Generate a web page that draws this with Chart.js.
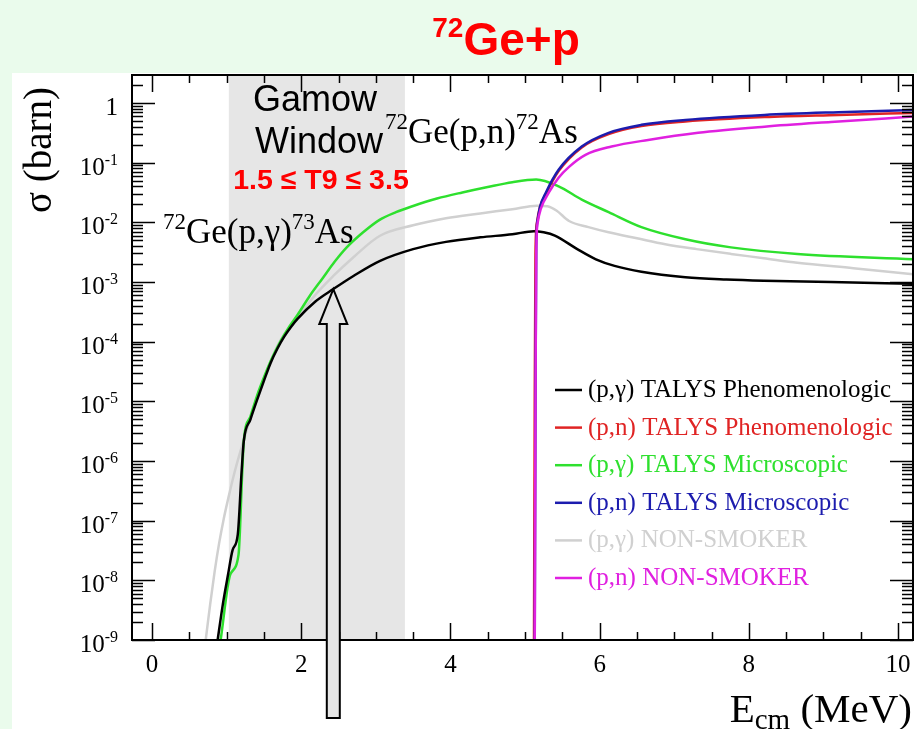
<!DOCTYPE html>
<html>
<head>
<meta charset="utf-8">
<script src="https://cdn.jsdelivr.net/npm/chart.js@4.4.0/dist/chart.umd.min.js"></script>
<style>
  html, body { margin: 0; padding: 0; background: #eafbec; }
  #wrap { width: 917px; height: 729px; }
</style>
</head>
<body>
<div id="wrap"><canvas id="xsChart" width="917" height="729"></canvas></div>
<script>
// 72Ge+p cross sections, E_cm in MeV, sigma in barn
const pgPhenE = [0.88, 0.95, 1.02, 1.08, 1.15, 1.2, 1.23, 1.32, 1.41, 1.5, 1.59, 1.68, 1.77, 1.86, 1.95, 2.19, 2.43, 2.7, 3.05, 3.5, 3.94, 4.4, 4.83, 5.12, 5.25, 5.4, 5.7, 5.95, 6.2, 6.56, 7.15, 7.7, 8.2, 9.1, 10.2];
const pgPhenSigma = [1e-9, 4.0e-9, 1.26e-8, 3.2e-8, 5.9e-8, 6.3e-7, 2.14e-6, 5.0e-6, 1.07e-5, 2.2e-5, 4.4e-5, 7.6e-5, 1.2e-4, 1.74e-4, 2.4e-4, 4.7e-4, 7.6e-4, 1.26e-3, 2.24e-3, 3.55e-3, 4.7e-3, 5.6e-3, 6.3e-3, 7.1e-3, 6.8e-3, 6.0e-3, 3.55e-3, 2.4e-3, 1.86e-3, 1.48e-3, 1.2e-3, 1.1e-3, 1.05e-3, 1.0e-3, 9.3e-4];

const pnPhenE = [5.12, 5.13, 5.14, 5.16, 5.2, 5.28, 5.45, 5.76, 6.12, 6.56, 7.15, 8.21, 9.2, 10.2];
const pnPhenSigma = [1e-9, 1e-5, 3e-3, 1.0e-2, 1.8e-2, 3.0e-2, 7.2e-2, 0.18, 0.3, 0.41, 0.49, 0.58, 0.63, 0.68];

const pgMicroE = [0.92, 1.05, 1.16, 1.21, 1.23, 1.32, 1.41, 1.5, 1.6, 1.72, 1.84, 1.95, 2.12, 2.29, 2.45, 2.61, 2.83, 3.05, 3.27, 3.49, 3.82, 4.16, 4.5, 4.83, 5.15, 5.45, 5.76, 6.12, 6.56, 7.15, 7.76, 8.65, 10.2];
const pgMicroSigma = [1e-9, 1.26e-8, 2.7e-8, 6.8e-7, 2.14e-6, 5.6e-6, 1.26e-5, 2.5e-5, 5.0e-5, 1.0e-4, 1.78e-4, 2.8e-4, 6.0e-4, 1.17e-3, 2.2e-3, 3.8e-3, 6.8e-3, 1.1e-2, 1.48e-2, 1.86e-2, 2.5e-2, 3.16e-2, 3.9e-2, 4.7e-2, 5.2e-2, 4.0e-2, 2.4e-2, 1.48e-2, 8.3e-3, 5.2e-3, 3.8e-3, 2.95e-3, 2.4e-3];

const pnMicroE = [5.13, 5.14, 5.15, 5.17, 5.2, 5.28, 5.45, 5.76, 6.12, 6.56, 7.15, 8.21, 9.2, 10.2];
const pnMicroSigma = [1e-9, 1e-5, 4e-3, 1.12e-2, 1.8e-2, 3.16e-2, 7.6e-2, 0.186, 0.316, 0.43, 0.52, 0.63, 0.7, 0.76];

const pgNSE = [0.72, 0.78, 0.84, 0.9, 0.96, 1.03, 1.1, 1.18, 1.26, 1.35, 1.5, 1.7, 1.95, 2.2, 2.43, 2.7, 3.05, 3.5, 3.94, 4.4, 4.83, 5.16, 5.3, 5.42, 5.59, 5.85, 6.12, 6.5, 6.88, 7.3, 7.76, 8.2, 8.65, 9.4, 10.2];
const pgNSSigma = [1e-9, 4.0e-9, 1.41e-8, 4.2e-8, 1.05e-7, 2.6e-7, 6.0e-7, 1.38e-6, 3.0e-6, 6.8e-6, 2.4e-5, 9.5e-5, 2.5e-4, 6.3e-4, 1.26e-3, 2.6e-3, 5.9e-3, 8.9e-3, 1.17e-2, 1.41e-2, 1.66e-2, 1.9e-2, 1.86e-2, 1.58e-2, 1.05e-2, 8.3e-3, 6.8e-3, 5.4e-3, 4.3e-3, 3.55e-3, 2.95e-3, 2.5e-3, 2.1e-3, 1.7e-3, 1.35e-3];

const pnNSE = [5.13, 5.14, 5.15, 5.17, 5.21, 5.32, 5.45, 5.59, 5.81, 6.16, 6.65, 7.32, 8.21, 9.1, 10.2];
const pnNSSigma = [1e-9, 1e-5, 3e-3, 1.0e-2, 1.66e-2, 3.16e-2, 5.6e-2, 8.5e-2, 0.135, 0.186, 0.24, 0.316, 0.4, 0.48, 0.59];

const seriesNames = [
  "(p,\u03b3) TALYS Phenomenologic",
  "(p,n) TALYS Phenomenologic",
  "(p,\u03b3) TALYS Microscopic",
  "(p,n) TALYS Microscopic",
  "(p,\u03b3) NON-SMOKER",
  "(p,n) NON-SMOKER"
];
const seriesColors = ["#000000", "#e02424", "#2ee02e", "#1c1cae", "#d0d0d0", "#e020e0"];
const seriesE = [pgPhenE, pnPhenE, pgMicroE, pnMicroE, pgNSE, pnNSE];
const seriesSigma = [pgPhenSigma, pnPhenSigma, pgMicroSigma, pnMicroSigma, pgNSSigma, pnNSSigma];
const drawOrder = [3, 2, 4, 1, 5, 0]; // lower = on top

const xTicks = [0, 2, 4, 6, 8, 10];
const yTicks = [1, 1e-1, 1e-2, 1e-3, 1e-4, 1e-5, 1e-6, 1e-7, 1e-8, 1e-9];
const yTickExp = ["", "-1", "-2", "-3", "-4", "-5", "-6", "-7", "-8", "-9"];

const gamowLow = 1.03, gamowHigh = 3.39;
const arrowE = 2.43, arrowSigma = 7.6e-4;

const SERIF = '"Liberation Serif", "Times New Roman", serif';
const SANS = '"Liberation Sans", Arial, sans-serif';

// draw a row of text pieces: [text, size, dy, family, weight]
function textRun(ctx, x, y, parts, align) {
  let total = 0;
  const widths = parts.map(p => {
    ctx.font = (p[4] || "") + " " + p[1] + "px " + (p[3] || SERIF);
    const w = ctx.measureText(p[0]).width;
    total += w;
    return w;
  });
  let cx = x;
  if (align === "right") cx = x - total;
  if (align === "center") cx = x - total / 2;
  parts.forEach((p, i) => {
    ctx.font = (p[4] || "") + " " + p[1] + "px " + (p[3] || SERIF);
    ctx.fillText(p[0], cx, y + (p[2] || 0));
    cx += widths[i];
  });
}

const decor = {
  id: "decor",
  beforeDraw(chart) {
    const ctx = chart.ctx;
    const a = chart.chartArea;
    const xs = chart.scales.x;
    ctx.save();
    ctx.fillStyle = "#ffffff";
    ctx.fillRect(12, 73, chart.width - 12, chart.height - 73);
    // gamow window band
    ctx.fillStyle = "#e6e6e6";
    const gx0 = xs.getPixelForValue(gamowLow), gx1 = xs.getPixelForValue(gamowHigh);
    ctx.fillRect(gx0, a.top, gx1 - gx0, a.bottom - a.top);
    ctx.restore();
  },
  afterDatasetsDraw(chart) {
    const ctx = chart.ctx;
    const a = chart.chartArea;
    const xs = chart.scales.x, ys = chart.scales.y;
    ctx.save();
    ctx.strokeStyle = "#000";
    ctx.lineWidth = 2;
    ctx.strokeRect(a.left, a.top, a.right - a.left, a.bottom - a.top);

    ctx.lineWidth = 1.5;
    ctx.beginPath();
    // y ticks, left and right, inside the frame
    yTicks.forEach(v => {
      const y = Math.round(ys.getPixelForValue(v)) + 0.5;
      ctx.moveTo(a.left, y); ctx.lineTo(a.left + 23, y);
      ctx.moveTo(a.right, y); ctx.lineTo(a.right - 23, y);
    });
    for (let e = -9; e <= 0; e++) {
      for (let m = 2; m <= 9; m++) {
        const v = m * Math.pow(10, e);
        if (v > ys.max) continue;
        const y = Math.round(ys.getPixelForValue(v)) + 0.5;
        ctx.moveTo(a.left, y); ctx.lineTo(a.left + 11, y);
        ctx.moveTo(a.right, y); ctx.lineTo(a.right - 11, y);
      }
    }
    // x ticks, bottom and top
    for (let k = 0; k <= 20; k++) {
      const v = k * 0.5;
      const x = Math.round(xs.getPixelForValue(v)) + 0.5;
      const len = (k % 4 === 0) ? 17 : 8;
      ctx.moveTo(x, a.bottom); ctx.lineTo(x, a.bottom - len);
      ctx.moveTo(x, a.top); ctx.lineTo(x, a.top + len);
    }
    ctx.stroke();

    // tick labels
    ctx.fillStyle = "#000";
    ctx.textBaseline = "alphabetic";
    yTicks.forEach((v, i) => {
      const y = ys.getPixelForValue(v);
      if (yTickExp[i] === "") {
        textRun(ctx, a.left - 14, y + 12, [["1", 25]], "right");
      } else {
        textRun(ctx, a.left - 14, y + 12, [["10", 25], [yTickExp[i], 16, -10]], "right");
      }
    });
    xTicks.forEach(v => {
      textRun(ctx, xs.getPixelForValue(v), a.bottom + 32, [[String(v), 25]], "center");
    });

    // axis titles
    textRun(ctx, a.right - 1, 722, [["E", 41], ["cm", 29, 7], [" (MeV)", 41]], "right");
    ctx.save();
    ctx.translate(51, 150);
    ctx.rotate(-Math.PI / 2);
    textRun(ctx, 0, 0, [["\u03c3 (barn)", 39]], "center");
    ctx.restore();

    // title
    ctx.fillStyle = "#ff0000";
    textRun(ctx, 506, 55, [["72", 28, -18, SANS, "bold"], ["Ge+p", 46, 0, SANS, "bold"]], "center");

    // annotations
    ctx.fillStyle = "#000";
    textRun(ctx, 315, 111, [["Gamow", 36, 0, SANS]], "center");
    textRun(ctx, 319, 153, [["Window", 36, 0, SANS]], "center");
    textRun(ctx, 385, 143, [["72", 23, -14], ["Ge(p,n)", 35], ["72", 23, -14], ["As", 35]], "left");
    textRun(ctx, 163, 243, [["72", 23, -14], ["Ge(p,\u03b3)", 35], ["73", 23, -14], ["As", 35]], "left");
    ctx.fillStyle = "#ff0000";
    textRun(ctx, 321, 189, [["1.5 \u2264 T9 \u2264 3.5", 28.5, 0, SANS, "bold"]], "center");

    // legend
    seriesNames.forEach((name, i) => {
      const ly = 390 + i * 37.6;
      ctx.strokeStyle = seriesColors[i];
      ctx.lineWidth = 2.5;
      ctx.beginPath();
      ctx.moveTo(555, ly); ctx.lineTo(582, ly);
      ctx.stroke();
      ctx.fillStyle = seriesColors[i];
      textRun(ctx, 588, ly + 7, [[name, 25]], "left");
    });

    // hollow arrow pointing at the (p,g) curve
    const tx = xs.getPixelForValue(arrowE), ty = ys.getPixelForValue(arrowSigma);
    const bottom = a.bottom + 78;
    ctx.beginPath();
    ctx.moveTo(tx, ty);
    ctx.lineTo(tx + 14, ty + 35);
    ctx.lineTo(tx + 6.5, ty + 35);
    ctx.lineTo(tx + 6.5, bottom);
    ctx.lineTo(tx - 6.5, bottom);
    ctx.lineTo(tx - 6.5, ty + 35);
    ctx.lineTo(tx - 14, ty + 35);
    ctx.closePath();
    ctx.fillStyle = "#e6e6e6";
    ctx.fill();
    ctx.strokeStyle = "#000";
    ctx.lineWidth = 2;
    ctx.stroke();
    ctx.restore();
  }
};

const datasets = seriesNames.map((name, i) => ({
  label: name,
  data: seriesE[i].map((e, j) => ({ x: e, y: seriesSigma[i][j] })),
  borderColor: seriesColors[i],
  backgroundColor: seriesColors[i],
  borderWidth: 2.5,
  pointRadius: 0,
  fill: false,
  cubicInterpolationMode: "monotone",
  order: drawOrder[i]
}));

new Chart(document.getElementById("xsChart").getContext("2d"), {
  type: "line",
  data: { datasets: datasets },
  options: {
    responsive: false,
    animation: false,
    layout: { padding: { left: 132, top: 75, right: 4, bottom: 89 } },
    plugins: { legend: { display: false }, title: { display: false }, tooltip: { enabled: false } },
    scales: {
      x: { type: "linear", min: -0.268, max: 10.2, display: false },
      y: { type: "logarithmic", min: 1e-9, max: 2.94, display: false }
    }
  },
  plugins: [decor]
});
</script>
</body>
</html>
